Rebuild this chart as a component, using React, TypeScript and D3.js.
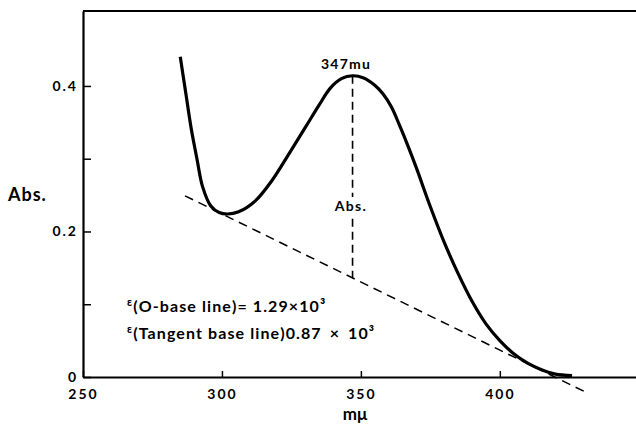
import React, { useRef, useEffect } from "react";
import { select, scaleLinear, axisLeft, axisBottom, line, curveCatmullRom } from "d3";

// absorption spectrum (wavelength in mμ, absorbance)
const wavelengths = [
  285, 287, 289, 291, 293, 296, 299, 302, 306, 312, 318, 324, 330, 335, 339,
  343, 347, 351, 355, 358, 361, 364, 367, 370, 375, 380, 385, 390, 395, 400,
  405, 410, 415, 420, 426,
];
const absorbance = [
  0.44, 0.39, 0.34, 0.3, 0.262, 0.235, 0.226, 0.224, 0.227, 0.242, 0.27, 0.306,
  0.343, 0.374, 0.397, 0.41, 0.414, 0.411, 0.401, 0.389, 0.371, 0.345, 0.317,
  0.287, 0.234, 0.185, 0.142, 0.104, 0.073, 0.05, 0.032, 0.019, 0.01, 0.004,
  0.002,
];

// tangent base line end points
const tangentX = [286.7, 431];
const tangentY = [0.249, -0.021];

const peakX = 347;
const peakY = 0.414;

const xTickValues = [250, 300, 350, 400];
const yTickValues = [0, 0.1, 0.2, 0.3, 0.4];
const yTickLabels = ["0", "", "0.2", "", "0.4"];

const FONT = "Lato, 'Open Sans', sans-serif";

const App = () => {
  const svgRef = useRef(null);

  useEffect(() => {
    const svg = select(svgRef.current);
    svg.selectAll("*").remove();

    const xScale = scaleLinear().domain([250, 449]).range([83, 636]);
    const yScale = scaleLinear().domain([0, 0.503]).range([377, 11]);

    const yAxis = axisLeft(yScale)
      .tickValues(yTickValues)
      .tickFormat((d, i) => yTickLabels[i])
      .tickSize(-8)
      .tickSizeOuter(0)
      .tickPadding(5);

    const xAxis = axisBottom(xScale)
      .tickValues(xTickValues)
      .tickSize(-6)
      .tickSizeOuter(0)
      .tickPadding(12);

    const gy = svg
      .append("g")
      .attr("transform", "translate(" + xScale.range()[0] + ",0)")
      .call(yAxis);
    const gx = svg
      .append("g")
      .attr("transform", "translate(0," + yScale(0) + ")")
      .call(xAxis);

    [gx, gy].forEach((g) => {
      g.select(".domain").attr("stroke-width", 2.2);
      g.selectAll(".tick line").attr("stroke-width", 1.5);
      g.selectAll(".tick text")
        .attr("font-family", FONT)
        .attr("font-weight", "bold")
        .attr("font-size", 14)
        .attr("letter-spacing", 2)
        .attr("fill", "#000");
    });
    gy.selectAll(".tick text").attr("dy", "0.3em");

    // top border
    svg
      .append("line")
      .attr("x1", xScale.range()[0])
      .attr("x2", xScale.range()[1])
      .attr("y1", yScale(0.503))
      .attr("y2", yScale(0.503))
      .attr("stroke", "#000")
      .attr("stroke-width", 2.2);

    const spectrum = wavelengths.map((w, i) => [w, absorbance[i]]);
    const pathGen = line()
      .x((d) => xScale(d[0]))
      .y((d) => yScale(d[1]))
      .curve(curveCatmullRom);

    svg
      .append("path")
      .datum(spectrum)
      .attr("d", pathGen)
      .attr("fill", "none")
      .attr("stroke", "#000")
      .attr("stroke-width", 3.2)
      .attr("stroke-linejoin", "round");

    svg
      .append("line")
      .attr("x1", xScale(tangentX[0]))
      .attr("y1", yScale(tangentY[0]))
      .attr("x2", xScale(tangentX[1]))
      .attr("y2", yScale(tangentY[1]))
      .attr("stroke", "#000")
      .attr("stroke-width", 1.5)
      .attr("stroke-dasharray", "9,6");

    const t = (peakX - tangentX[0]) / (tangentX[1] - tangentX[0]);
    const baseAtPeak = tangentY[0] + t * (tangentY[1] - tangentY[0]);

    svg
      .append("line")
      .attr("x1", xScale(peakX))
      .attr("y1", yScale(peakY))
      .attr("x2", xScale(peakX))
      .attr("y2", yScale(baseAtPeak))
      .attr("stroke", "#000")
      .attr("stroke-width", 1.6)
      .attr("stroke-dasharray", "8,5");

    const txt = (x, y, s, size, anchor = "start") =>
      svg
        .append("text")
        .attr("x", x)
        .attr("y", y)
        .attr("font-family", FONT)
        .attr("font-weight", "bold")
        .attr("font-size", size)
        .attr("text-anchor", anchor)
        .text(s);

    // white box behind the inner "Abs." label so the dashes stop around it
    svg
      .append("rect")
      .attr("x", 331)
      .attr("y", 197)
      .attr("width", 40)
      .attr("height", 18)
      .attr("fill", "#fff");

    txt(346, 69, "347mu", 14, "middle").attr("letter-spacing", 1.2);
    txt(351, 211, "Abs.", 14, "middle").attr("letter-spacing", 1.3);
    txt(8, 201, "Abs.", 18).attr("letter-spacing", 1);
    txt(355, 420, "mμ", 17, "middle");

    const eps = (y, parts) => {
      const el = svg
        .append("text")
        .attr("x", 127)
        .attr("y", y)
        .attr("font-family", FONT)
        .attr("font-weight", "bold")
        .attr("font-size", 16)
        .attr("letter-spacing", 1.1);
      el.append("tspan").attr("font-size", 11).attr("dy", -6).text("ε");
      parts.forEach((p, i) =>
        el
          .append("tspan")
          .attr("dy", i === 0 ? 6 : 0)
          .attr("dx", i === 0 ? 0 : 8)
          .text(p)
      );
    };
    eps(312, ["(O-base line)= 1.29×10³"]);
    eps(339, ["(Tangent base line)0.87", "×", "10³"]);
  }, []);

  return (
    <div style={{ position: "absolute", left: 0, top: 0 }}>
      <svg ref={svgRef} width={636} height={424} style={{ display: "block", background: "#fff" }}></svg>
    </div>
  );
};

export default App;
